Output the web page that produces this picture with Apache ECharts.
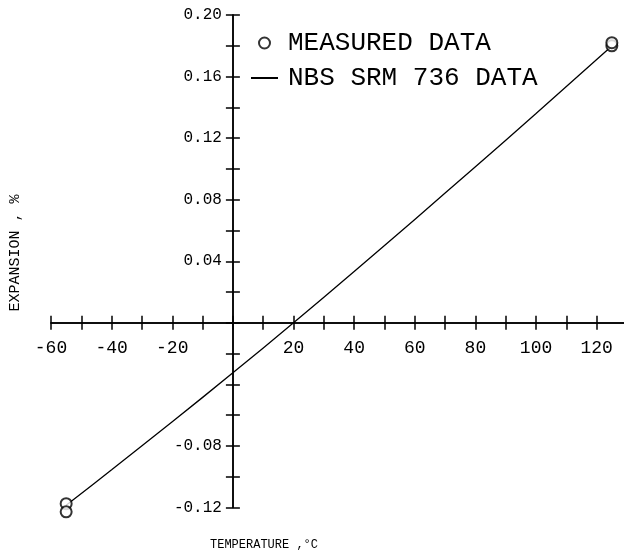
<!DOCTYPE html>
<html>
<head>
<meta charset="utf-8">
<title>Expansion vs temperature</title>
<script src="https://cdn.jsdelivr.net/npm/echarts@6/dist/echarts.min.js"></script>
<style>
html, body { margin: 0; padding: 0; background: #fff; }
#main { width: 624px; height: 558px; }
</style>
</head>
<body>
<div id="main"></div>
<script>
// measured points (two readings at each end)
var measTemps  = [-55, -55, 125, 125];
var measValues = [-0.1175, -0.1228, 0.180, 0.182];

// NBS SRM 736 reference curve
var nbsTemps  = [-55, -40, -20, 0, 20, 40, 60, 80, 100, 125];
var nbsValues = [-0.1185, -0.0955, -0.0643, -0.0325, 0, 0.0333, 0.0672, 0.1014, 0.136, 0.1798];

// which ticks get a label
var xLabels = [-60, -40, -20, 20, 40, 60, 80, 100, 120];
var yLabels = [0.20, 0.16, 0.12, 0.08, 0.04, -0.08, -0.12];

var FONT = 'Liberation Mono';

// plot box and where the axes cross (x = 0, y = 0)
var G = { left: 51, top: 15, width: 576, height: 492.5 };
var X_MIN = -60, X_MAX = 130, Y_MIN = -0.12, Y_MAX = 0.20;
var xZeroShift = G.width * (0 - X_MIN) / (X_MAX - X_MIN);
var yZeroShift = G.height * (0 - Y_MIN) / (Y_MAX - Y_MIN);

function pairs(xs, ys) {
    var out = [];
    for (var i = 0; i < xs.length; i++) out.push([xs[i], ys[i]]);
    return out;
}
function hasLabel(list, v) {
    for (var i = 0; i < list.length; i++) {
        if (Math.abs(list[i] - v) < 1e-6) return true;
    }
    return false;
}

var chart = echarts.init(document.getElementById('main'));

var tickStyle = { color: '#000', width: 1.5 };

// ticks cross the axis line: one axis draws them outside, a twin draws them inside
function xAxisOf(inside) {
    return {
        type: 'value', min: X_MIN, max: X_MAX, interval: 10,
        position: 'bottom', offset: -yZeroShift,
        splitLine: { show: false },
        axisLine: { onZero: false, lineStyle: { color: '#000', width: 1.5 } },
        axisTick: { inside: inside, length: 7, lineStyle: tickStyle },
        axisLabel: inside ? { show: false } : {
            margin: 16, color: '#000', fontFamily: FONT, fontSize: 18,
            formatter: function (v) { return hasLabel(xLabels, v) ? String(v) : ''; }
        }
    };
}
function yAxisOf(inside) {
    return {
        type: 'value', min: Y_MIN, max: Y_MAX, interval: 0.02,
        position: 'left', offset: -xZeroShift,
        splitLine: { show: false },
        axisLine: { onZero: false, lineStyle: { color: '#000', width: 1.5 } },
        axisTick: { inside: inside, length: 7, lineStyle: tickStyle },
        axisLabel: inside ? { show: false } : {
            margin: 11, color: '#000', fontFamily: FONT, fontSize: 16,
            formatter: function (v) { return hasLabel(yLabels, v) ? v.toFixed(2) : ''; }
        }
    };
}

var option = {
    animation: false,
    backgroundColor: '#fff',
    grid: { left: G.left, top: G.top, width: G.width, height: G.height,
        containLabel: false, outerBoundsMode: 'none' },
    legend: {
        orient: 'vertical',
        left: 245,
        top: 25,
        itemGap: 9,
        itemWidth: 27,
        itemHeight: 11,
        textStyle: { fontFamily: FONT, fontSize: 26, color: '#000', padding: [0, 0, 0, 5] },
        data: [
            'MEASURED DATA',
            { name: 'NBS SRM 736 DATA', itemStyle: { opacity: 0 } }
        ]
    },
    xAxis: [xAxisOf(false), xAxisOf(true)],
    yAxis: [yAxisOf(false), yAxisOf(true)],
    graphic: [
        {
            type: 'text', x: 15, y: 253, rotation: Math.PI / 2,
            style: { text: 'EXPANSION , %', fontFamily: FONT, fontSize: 15, fill: '#000',
                align: 'center', verticalAlign: 'middle' }
        },
        {
            type: 'text', x: 264, y: 545,
            style: { text: 'TEMPERATURE ,°C', fontFamily: FONT, fontSize: 12, fill: '#000',
                align: 'center', verticalAlign: 'middle' }
        }
    ],
    series: [
        {
            name: 'MEASURED DATA',
            type: 'scatter',
            xAxisIndex: 0, yAxisIndex: 0,
            clip: false,
            symbol: 'emptyCircle',
            symbolSize: 11,
            itemStyle: { color: '#000', borderColor: '#000', borderWidth: 2 },
            data: pairs(measTemps, measValues),
            z: 3
        },
        {
            name: 'NBS SRM 736 DATA',
            type: 'line',
            xAxisIndex: 0, yAxisIndex: 0,
            symbol: 'none',
            smooth: 0.3,
            lineStyle: { color: '#000', width: 1.3 },
            itemStyle: { color: '#000' },
            data: pairs(nbsTemps, nbsValues),
            z: 2
        }
    ]
};

chart.setOption(option);
</script>
</body>
</html>
